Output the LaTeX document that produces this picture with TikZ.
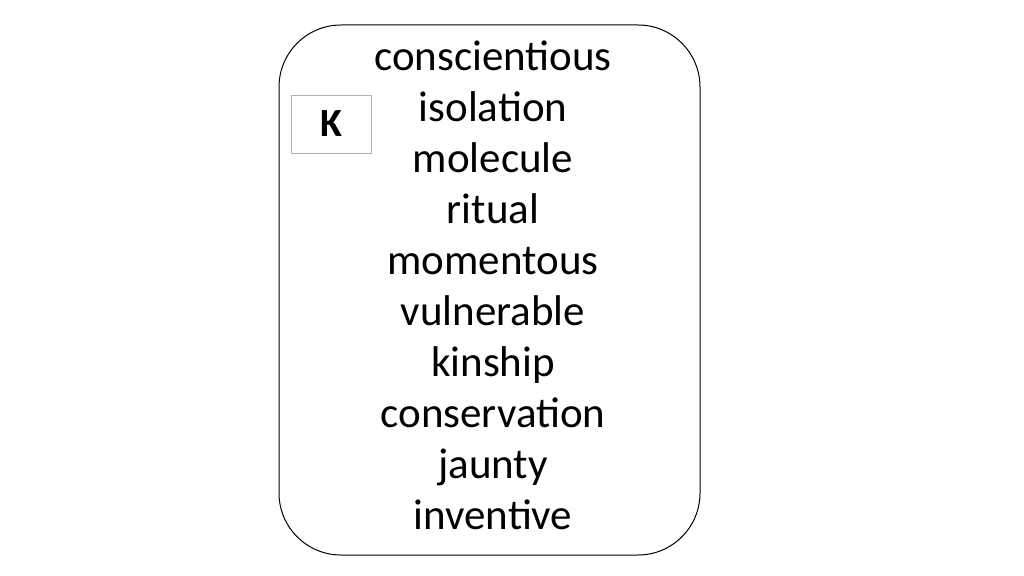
\documentclass[tikz,border=0pt]{standalone}
\usepackage{fontspec}
\setmainfont{Carlito}
\begin{document}
\begin{tikzpicture}[x=1pt,y=-1pt,
  word/.style={font=\fontsize{43}{50}\selectfont, inner sep=0pt, anchor=mid}]
\useasboundingbox (0,0) rectangle (1024,575);
\draw[line width=1pt, rounded corners=62pt] (279,25) rectangle (700,555);
\node[draw=gray!60, minimum width=80pt, minimum height=58pt, inner sep=0pt,
  font=\fontsize{40}{46}\selectfont\bfseries] (badge) at (331,124) {K};
\foreach \w [count=\i from 0] in {conscientious,isolation,molecule,ritual,momentous,vulnerable,kinship,conservation,jaunty,inventive}
  \node[word] (w\i) at (493,{68+51.0*\i}) {\w};
\end{tikzpicture}
\end{document}
